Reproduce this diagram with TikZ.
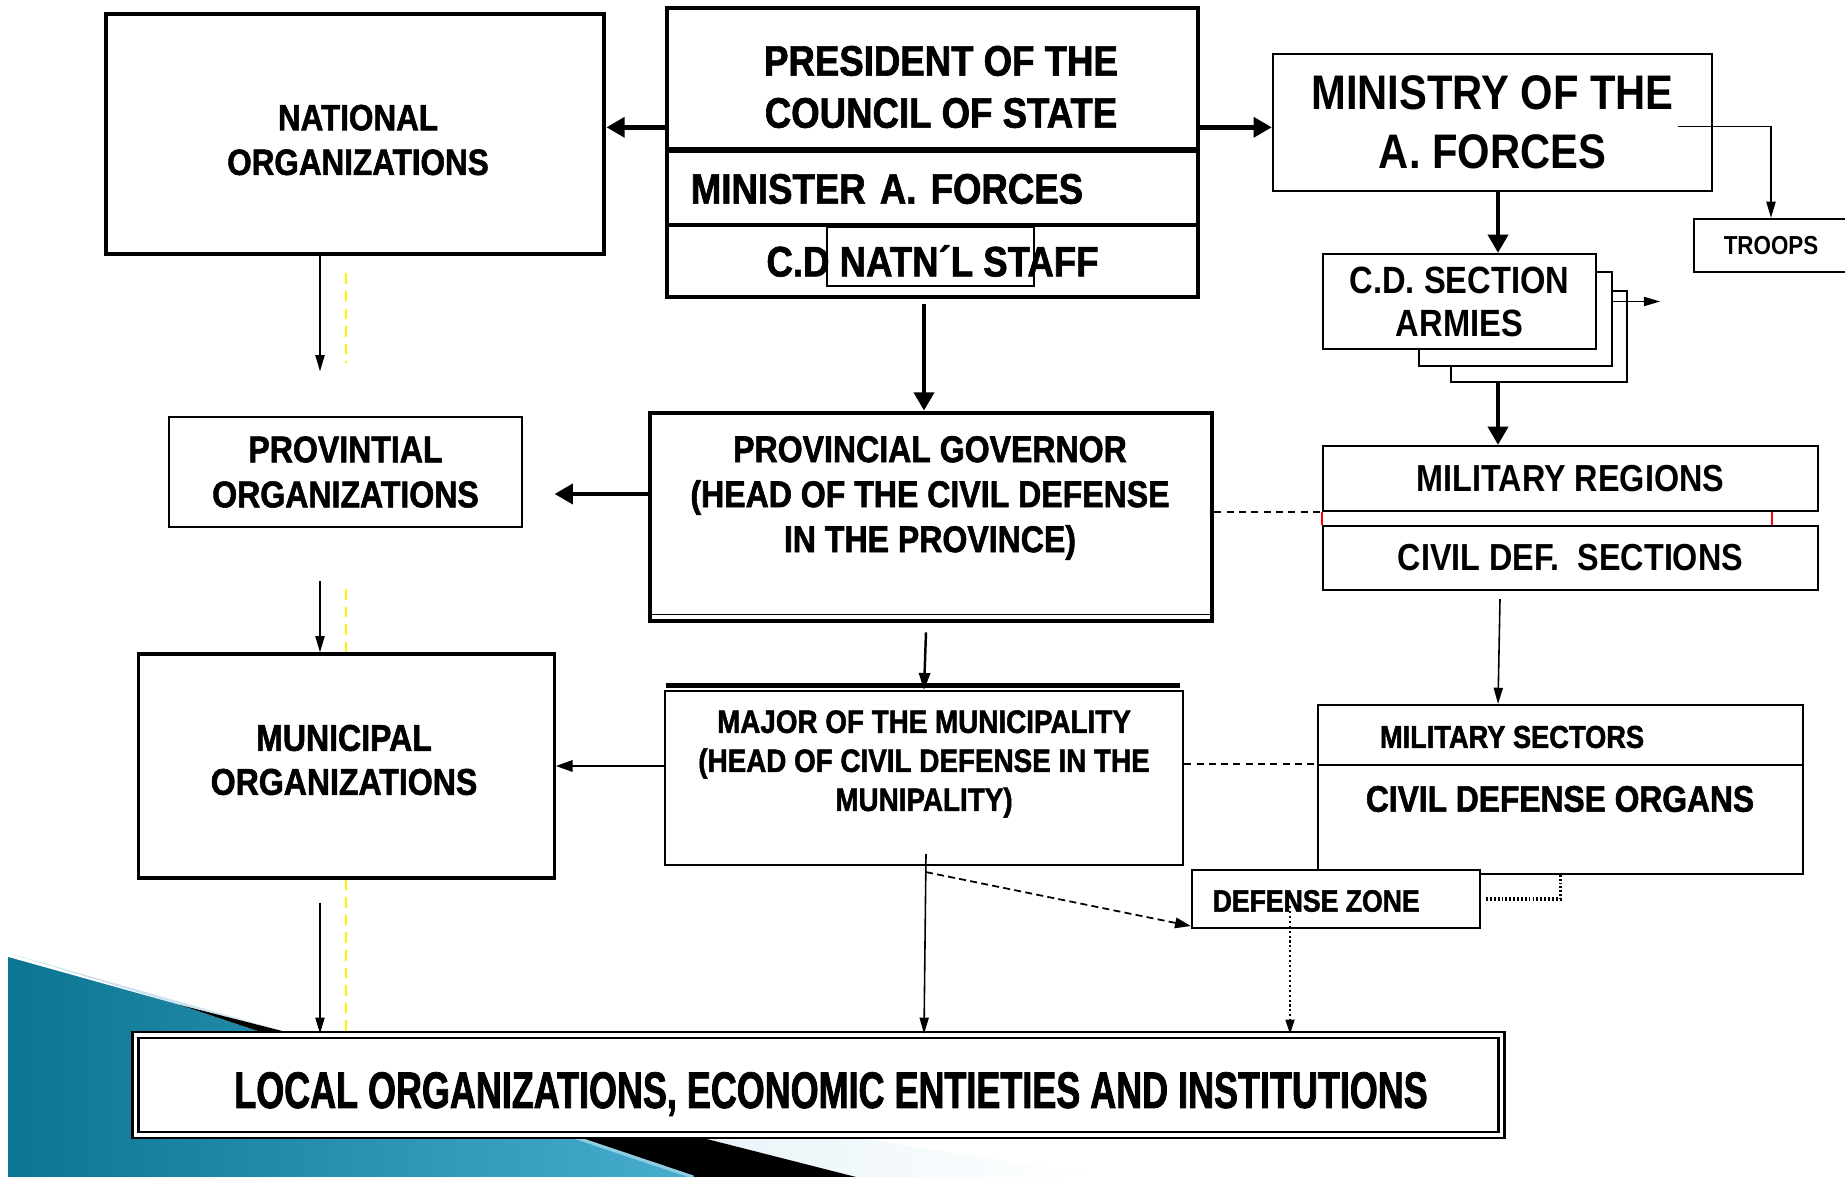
\documentclass[tikz,border=0pt]{standalone}
\usepackage{fontspec}
\usepackage{tikz}
\usetikzlibrary{calc,arrows.meta}

\newfontfamily\chartfont{Liberation Sans}[FakeStretch=0.86]
\newfontfamily\heavyfont{Liberation Sans}[FakeStretch=0.86,FakeBold=1.5]
\newfontfamily\localfont{Liberation Sans}[FakeStretch=0.70,FakeBold=1.5]
\newcommand{\cfont}[2]{\chartfont\bfseries\fontsize{#1}{#2}\selectfont}
\newcommand{\hfont}[2]{\heavyfont\bfseries\fontsize{#1}{#2}\selectfont}

\definecolor{flowteal}{HTML}{0B7592}
\definecolor{flowlight}{HTML}{48ADCF}
\definecolor{flowpale}{HTML}{C3E0EC}
\definecolor{flowstreak}{HTML}{8FCDE3}

\tikzset{
  box/.style={draw, rectangle, fill=white, inner sep=0pt, line width=0.6pt},
  heavybox/.style={box, line width=1.3pt},
  lbl/.style={inner sep=0pt, align=center},
  bigarrow/.style={line width=1.4pt, -{Triangle[length=5.2pt,width=5.6pt]}},
  medarrow/.style={line width=0.7pt, -{Triangle[length=4.8pt,width=3.2pt]}},
  smallarrow/.style={line width=0.45pt, -{Triangle[length=4.6pt,width=2.6pt]}},
  linkdash/.style={line width=0.45pt, dash pattern=on 2pt off 1.5pt},
  dasharrow/.style={line width=0.5pt, dash pattern=on 2pt off 1.2pt, -{Triangle[length=4.5pt,width=3pt]}},
  dotlink/.style={line width=0.9pt, dash pattern=on 0.5pt off 0.6pt},
  dotarrow/.style={line width=0.35pt, dash pattern=on 0.6pt off 0.8pt, -{Triangle[length=4pt,width=2.6pt]}},
  guide/.style={yellow, line width=0.35pt, dash pattern=on 3pt off 2pt}
}

\begin{document}
\begin{tikzpicture}[x=0.01cm,y=-0.01cm]

% --- Page frame (1845 x 1177) ---
\path[use as bounding box, fill=white] (0,0) rectangle (1845,1177);

% --- Background swoosh, bottom left ---
\shade[left color=flowpale, right color=white] (8,953) -- (290,1033) -- (871,1140) -- (1106,1177) -- (856,1177) -- (180,1005) -- cycle;
\shade[left color=flowteal, right color=flowlight] (8,957) -- (180,1005) -- (695,1177) -- (8,1177) -- cycle;
\fill[black] (180,1005) -- (856,1177) -- (695,1177) -- cycle;
\draw[flowstreak, line width=0.9pt] (300,1045) -- (693,1177);

% --- Column positions for the vertical links ---
\coordinate (lcol) at (320,0);
\coordinate (ycol) at (346,0);
\coordinate (mcol) at (924,0);
\coordinate (dcol) at (1290,0);
\coordinate (rcol) at (1498,0);

% --- National level ---
\node[heavybox, minimum width=4.98cm, minimum height=2.40cm] (natl) at (355,134) {};
\node[lbl, font={\hfont{10.4}{12.7}}] (natltxt) at (358,140) {NATIONAL\\ORGANIZATIONS};

\node[heavybox, minimum width=5.31cm, minimum height=1.41cm] (pres) at (932.5,78.5) {};
\node[lbl, font={\hfont{12.1}{14.8}}] (prestxt) at (941,87) {PRESIDENT OF THE\\COUNCIL OF STATE};
\node[heavybox, minimum width=5.31cm, minimum height=0.76cm, text width=4.83cm, align=left,
  font={\hfont{12.1}{14.8}}] (minister) at (932.5,189) {MINISTER A. FORCES};
\node[heavybox, minimum width=5.31cm, minimum height=0.72cm, align=center,
  font={\hfont{12.1}{14.8}}] (cdstaff) at (932.5,261) {C.D NATN´L STAFF};
\draw[line width=0.45pt] (827,227) rectangle (1034,286);

\node[box, minimum width=4.39cm, minimum height=1.37cm, align=center,
  font={\cfont{13.8}{16.8}}] (ministry) at (1492.5,122.5) {MINISTRY OF THE\\A. FORCES};
\node[box, minimum width=1.54cm, minimum height=0.53cm,
  font={\cfont{7.4}{9}}] (troops) at (1771,245.5) {TROOPS};

% stacked section boxes
\node[box, minimum width=1.76cm, minimum height=0.91cm] (cdsec3) at (1539,336.5) {};
\node[box, minimum width=1.93cm, minimum height=0.94cm] (cdsec2) at (1515.5,319) {};
\node[box, minimum width=2.73cm, minimum height=0.95cm, align=center,
  font={\cfont{10.8}{12.2}}] (cdsec) at (1459.5,301.5) {C.D. SECTION\\ARMIES};

\node[box, minimum width=4.95cm, minimum height=0.65cm,
  font={\cfont{10.7}{13}}] (milreg) at (1570.5,478.5) {MILITARY REGIONS};
\node[box, minimum width=4.95cm, minimum height=0.64cm,
  font={\cfont{10.7}{13}}] (cdsect) at (1570.5,558) {CIVIL DEF.\ \ SECTIONS};

% --- Provincial level ---
\node[heavybox, minimum width=5.62cm, minimum height=2.08cm] (provgov) at (931,517) {};
\node[lbl, font={\hfont{10.6}{12.8}}] (provtxt) at (930,498)
  {PROVINCIAL GOVERNOR\\(HEAD OF THE CIVIL DEFENSE\\IN THE PROVINCE)};
\draw[line width=0.45pt] ($(provgov.south west)+(0,-9)$) -- ($(provgov.south east)+(0,-9)$);

\node[box, minimum width=3.53cm, minimum height=1.10cm, align=center,
  font={\hfont{10.6}{12.8}}] (provorg) at (345.5,472) {PROVINTIAL\\ORGANIZATIONS};

% --- Municipal level ---
\node[box, line width=0.9pt, minimum width=4.15cm, minimum height=2.24cm] (muni) at (346.5,766) {};
\node[lbl, font={\hfont{10.6}{12.5}}] (munitxt) at (344,760) {MUNICIPAL\\ORGANIZATIONS};

\node[box, minimum width=5.18cm, minimum height=1.74cm] (major) at (924,778) {};
\draw[line width=1.4pt] ($(major.north west)+(2,-4)$) -- ($(major.north east)+(-4,-4)$);
\node[lbl, font={\hfont{9.2}{11.1}}] (majtxt) at (924,764)
  {MAJOR OF THE MUNICIPALITY\\(HEAD OF CIVIL DEFENSE IN THE\\MUNIPALITY)};

\node[box, minimum width=4.85cm, minimum height=0.60cm] (milsec) at (1560.5,735) {};
\node[box, minimum width=4.85cm, minimum height=1.09cm] (cdorg) at (1560.5,819.5) {};
\node[lbl, font={\hfont{9}{11}}] (mstxt) at (1512,737) {MILITARY SECTORS};
\node[lbl, font={\hfont{10.5}{12}}] (cdotxt) at (1560,799) {CIVIL DEFENSE ORGANS};

\node[box, minimum width=2.88cm, minimum height=0.58cm] (defzone) at (1336,899) {};
\node[lbl, anchor=west, font={\hfont{8.8}{10}}] (dztxt) at (1212,901) {DEFENSE ZONE};

% --- Local level ---
\node[box, double, line width=0.7pt, double distance=1pt, minimum width=13.65cm,
  minimum height=1.00cm] (local) at (818.5,1085) {};
\node[lbl, font={\localfont\bfseries\fontsize{14.6}{17}\selectfont}] (localtxt) at (831,1094)
  {LOCAL ORGANIZATIONS, ECONOMIC ENTIETIES AND INSTITUTIONS};

% --- Links, top ---
\coordinate (prow) at ($(pres.south west)+(0,-24)$);
\draw[bigarrow] (prow) -- (natl.east |- prow);
\draw[bigarrow] (pres.east |- prow) -- (ministry.west |- prow);
\draw[smallarrow] ($(ministry.east)+(-35,4)$) -| (troops.north);
\draw[bigarrow] (ministry.south -| rcol) -- (cdsec.north -| rcol);
\draw[smallarrow] (cdsec2.east |- cdsec.east) -- ++(47,0);
\draw[bigarrow] (cdsec3.south -| rcol) -- (milreg.north -| rcol);
\draw[red, line width=0.6pt] (milreg.south west) -- (cdsect.north west);
\draw[red, line width=0.6pt] ($(milreg.south east)+(-47,0)$) -- ($(cdsect.north east)+(-47,0)$);

% --- Links, middle ---
\draw[bigarrow] ($(cdstaff.south -| mcol)+(0,5)$) -- (provgov.north -| mcol);
\draw[bigarrow] ($(provgov.west)+(0,-23)$) -- ++(-93,0);
\draw[linkdash] (provgov.east |- milreg.south) -- (milreg.south west);
\draw[medarrow] ($(provgov.south -| mcol)+(2,9)$) -- (major.north -| mcol);
\draw[medarrow] (major.west |- muni.east) -- (muni.east);
\draw[linkdash] (major.east |- cdorg.north) -- (cdorg.north west);
\draw[smallarrow] ($(cdsect.south -| rcol)+(2,8)$) -- (milsec.north -| rcol);
\draw[dotlink] ($(defzone.east)+(5,0)$) -| (cdorg.south);

% --- Links, left column ---
\draw[smallarrow] (natl.south -| lcol) -- ++(0,115);
\draw[smallarrow] ($(provorg.south -| lcol)+(0,53)$) -- (muni.north -| lcol);
\draw[smallarrow] ($(muni.south -| lcol)+(0,23)$) -- (local.north -| lcol);
\draw[guide] ($(natl.south -| ycol)+(0,17)$) -- ++(0,90);
\draw[guide] ($(provorg.south -| ycol)+(0,61)$) -- (muni.north -| ycol);
\draw[guide] (muni.south -| ycol) -- (local.north -| ycol);

% --- Links, bottom ---
\draw[dasharrow] ($(major.south -| mcol)+(2,6)$) -- ($(defzone.south west)+(0,-3)$);
\draw[smallarrow] ($(major.south -| mcol)+(2,-12)$) -- (local.north -| mcol);
\draw[dotarrow] ($(defzone.center -| dcol)+(0,7)$) -- (local.north -| dcol);

\end{tikzpicture}
\end{document}
